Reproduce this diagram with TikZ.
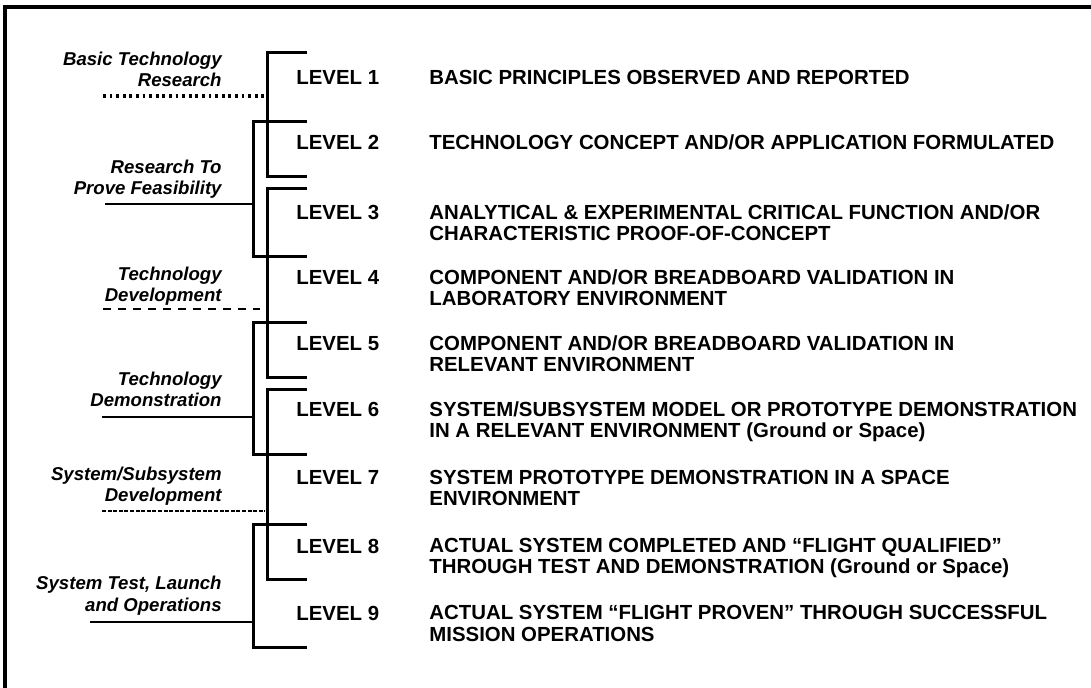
\documentclass[tikz,border=0pt]{standalone}
\usepackage{fontspec}
\setmainfont{Liberation Sans}
\begin{document}
\begin{tikzpicture}[x=0.5pt, y=-0.5pt,
        lvl/.style={anchor=base west, inner sep=0pt, font=\fontsize{10.2}{10.7}\selectfont\bfseries},
        desc/.style={anchor=base west, inner sep=0pt, align=left, font=\fontsize{10.2}{10.7}\selectfont\bfseries},
        phase/.style={anchor=base east, inner sep=0pt, align=right, font=\fontsize{9.3}{10.7}\selectfont\bfseries\itshape},
        brk/.style={line width=1.5pt},
        uline/.style={line width=1.3pt}]
        \useasboundingbox (0,0) rectangle (1091,688);
        \draw[line width=1.8pt] (1091,7) -- (5,7) -- (5,688);

        \foreach \n/\y/\m/\txt in {
            1/85/85/{BASIC PRINCIPLES OBSERVED AND REPORTED},
            2/150/150/{TECHNOLOGY CONCEPT AND/OR APPLICATION FORMULATED},
            3/220/241/{ANALYTICAL \& EXPERIMENTAL CRITICAL FUNCTION AND/OR\\CHARACTERISTIC PROOF-OF-CONCEPT},
            4/285/306/{COMPONENT AND/OR BREADBOARD VALIDATION IN\\LABORATORY ENVIRONMENT},
            5/351/372/{COMPONENT AND/OR BREADBOARD VALIDATION IN\\RELEVANT ENVIRONMENT},
            6/417/438/{SYSTEM/SUBSYSTEM MODEL OR PROTOTYPE DEMONSTRATION\\IN A RELEVANT ENVIRONMENT (Ground or Space)},
            7/485/506/{SYSTEM PROTOTYPE DEMONSTRATION IN A SPACE\\ENVIRONMENT},
            8/553/574/{ACTUAL SYSTEM COMPLETED AND “FLIGHT QUALIFIED”\\THROUGH TEST AND DEMONSTRATION (Ground or Space)},
            9/620/641/{ACTUAL SYSTEM “FLIGHT PROVEN” THROUGH SUCCESSFUL\\MISSION OPERATIONS}} {
            \node[lvl] (lv\n) at (296,\y) {LEVEL \n};
            \node[desc] (txt\n) at (429,\m) {\txt};
        }

        \foreach \a/\b in {53/177, 189/378, 390/580} {
            \draw[brk] (307,\a) -- (267,\a) -- (267,\b) -- (307,\b);
        }
        \foreach \a/\b in {122/257, 323/455, 525/647} {
            \draw[brk] (307,\a) -- (253,\a) -- (253,\b) -- (307,\b);
        }

        \node[phase] (basic) at (222,87) {Basic Technology\\Research};
        \node[phase] (feas) at (222,195) {Research To\\Prove Feasibility};
        \node[phase] (devel) at (222,302) {Technology\\Development};
        \node[phase] (demo) at (222,407) {Technology\\Demonstration};
        \node[phase] (subsys) at (222,502) {System/Subsystem\\Development};
        \node[phase] (ops) at (222,611) {System Test, Launch\\and Operations};

        \draw[line width=1.6pt, dash pattern=on 1.4pt off 1.9pt] (103,96) -- (267,96);
        \draw[uline] (105,204) -- (253,204);
        \draw[uline, dash pattern=on 4pt off 3.5pt] (103,309) -- (260,309);
        \draw[uline] (102,417) -- (253,417);
        \draw[uline, dash pattern=on 2pt off 0.8pt] (102,511) -- (265,511);
        \draw[uline] (90,622) -- (253,622);
    \end{tikzpicture}
\end{document}
